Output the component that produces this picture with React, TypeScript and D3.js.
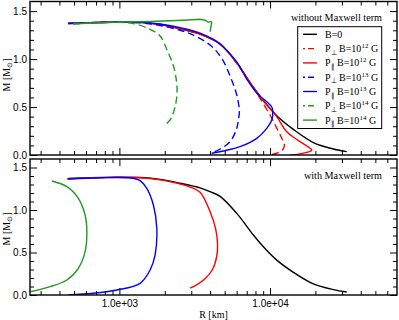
import React, { useRef, useEffect } from 'react';
import * as d3 from 'd3';

// radius [km], mass [M_sun]

// B = 0 (same curve in both panels)
const bZero = [[457, 1.37], [639, 1.38], [1011, 1.387], [1372, 1.382], [1863, 1.36], [2528, 1.315], [3431, 1.26], [3999, 1.215], [4658, 1.16], [6012, 0.96], [7748, 0.706], [9027, 0.568], [11080, 0.41], [14280, 0.267], [19380, 0.13], [26300, 0.063], [32280, 0.035]];

// without Maxwell term
const perp12 = [[457, 1.37], [639, 1.38], [1011, 1.387], [1372, 1.382], [1863, 1.36], [2528, 1.315], [3431, 1.26], [4658, 1.16], [6012, 0.955], [7748, 0.7], [8584, 0.59], [10000, 0.417], [11080, 0.28], [11960, 0.175], [12450, 0.11], [12200, 0.06], [11080, 0.018], [9743, 0.0]];
const par12 = [[457, 1.37], [639, 1.38], [1011, 1.387], [1372, 1.382], [1863, 1.36], [2528, 1.315], [3431, 1.26], [4658, 1.16], [6012, 0.958], [7748, 0.703], [9027, 0.565], [11080, 0.4], [12905, 0.243], [15810, 0.139], [18910, 0.05], [15810, 0.012], [13570, 0.0]];
const perp13 = [[457, 1.372], [639, 1.378], [1011, 1.384], [1372, 1.378], [1863, 1.35], [2528, 1.3], [3097, 1.25], [3999, 1.146], [4780, 1.007], [5500, 0.8], [6012, 0.625], [6256, 0.45], [6150, 0.36], [6012, 0.278], [5428, 0.139], [4539, 0.052], [3999, 0.015]];
const par13 = [[457, 1.372], [639, 1.38], [1011, 1.388], [1372, 1.385], [1863, 1.365], [2659, 1.32], [3431, 1.27], [4430, 1.18], [6012, 0.97], [7006, 0.79], [8325, 0.63], [9509, 0.555], [10263, 0.5], [10420, 0.46], [10263, 0.365], [9509, 0.278], [8161, 0.174], [6323, 0.087], [4899, 0.042], [4104, 0.018]];
const perp14 = [[493, 1.365], [639, 1.375], [1011, 1.383], [1238, 1.37], [1599, 1.31], [1863, 1.24], [2063, 1.1], [2282, 0.93], [2378, 0.8], [2415, 0.68], [2342, 0.5], [2170, 0.365], [2063, 0.33]];
const par14 = [[493, 1.365], [639, 1.376], [1011, 1.386], [1599, 1.392], [2659, 1.405], [3431, 1.415], [3705, 1.405], [3896, 1.383], [4059, 1.392], [4100, 1.384], [3999, 1.285]];

// with Maxwell term
const maxB12 = [[448, 1.365], [639, 1.378], [1011, 1.385], [1372, 1.38], [1863, 1.355], [2342, 1.32], [2945, 1.27], [3431, 1.21], [3999, 0.98], [4350, 0.78], [4484, 0.6], [4420, 0.45], [4150, 0.3], [3700, 0.19], [3300, 0.125], [2945, 0.08]];
const maxB13 = [[457, 1.365], [745, 1.38], [1238, 1.373], [1372, 1.345], [1520, 1.255], [1681, 1.059], [1771, 0.785], [1725, 0.47], [1599, 0.294], [1372, 0.137], [961, 0.059], [672, 0.02], [457, 0.0]];
const maxB14 = [[356, 1.341], [448, 1.274], [534, 1.137], [592, 0.941], [608, 0.745], [592, 0.51], [534, 0.314], [448, 0.176], [347, 0.098], [255, 0.039], [240, 0.035]];

const xMajor = [1000, 10000];
const xLabels = ['1.0e+03', '1.0e+04'];
const yMajor = [0, 0.5, 1.0, 1.5];

const legendRows = [
  { p: '', sub: '', text: 'B=0', exp: '' },
  { p: 'P', sub: '\u22A5', text: ' B=10', exp: '12' },
  { p: 'P', sub: '\u2225', text: ' B=10', exp: '12' },
  { p: 'P', sub: '\u22A5', text: ' B=10', exp: '13' },
  { p: 'P', sub: '\u2225', text: ' B=10', exp: '13' },
  { p: 'P', sub: '\u22A5', text: ' B=10', exp: '14' },
  { p: 'P', sub: '\u2225', text: ' B=10', exp: '14' },
];

const GREEN = '#1f9a1f';
const FONT = "'Liberation Serif', 'Times New Roman', serif";

const App = () => {
  const svgRef = useRef(null);

  useEffect(() => {
    const svg = d3.select(svgRef.current);
    svg.selectAll('*').remove();

    const left = 30, right = 397;
    const x = d3.scaleLog().domain([255, 69600]).range([left, right]);
    const xMinor = x.ticks().filter(t => xMajor.indexOf(t) < 0);
    const yMinor = d3.range(0, 16).map(i => i / 10).filter(v => yMajor.indexOf(v) < 0);

    const topSeries = [
      { data: bZero, color: '#000', dash: null },
      { data: perp12, color: '#ff0000', dash: '7,4' },
      { data: par12, color: '#ff0000', dash: null },
      { data: perp13, color: '#0000ff', dash: '7,4' },
      { data: par13, color: '#0000ff', dash: null },
      { data: perp14, color: GREEN, dash: '7,4' },
      { data: par14, color: GREEN, dash: null, linear: true },
    ];
    const bottomSeries = [
      { data: bZero, color: '#000', dash: null },
      { data: maxB12, color: '#ff0000', dash: null },
      { data: maxB13, color: '#0000ff', dash: null },
      { data: maxB14, color: GREEN, dash: null },
    ];

    const panels = [
      { top: 1.5, bottom: 155, title: 'without Maxwell term', titleY: 20.5, series: topSeries, labels: false, labelY: 75 },
      { top: 159, bottom: 295, title: 'with Maxwell term', titleY: 178.5, series: bottomSeries, labels: true, labelY: 229 },
    ];

    panels.forEach((p, pi) => {
      const y = d3.scaleLinear().domain([0, 1.6]).range([p.bottom, p.top]);
      const g = svg.append('g');

      const clipId = 'clip' + pi;
      g.append('clipPath').attr('id', clipId)
        .append('rect')
        .attr('x', left).attr('y', p.top)
        .attr('width', right - left).attr('height', p.bottom - p.top);

      const curves = g.append('g').attr('clip-path', `url(#${clipId})`);
      p.series.forEach(s => {
        const line = d3.line()
          .x(d => x(d[0]))
          .y(d => y(d[1]))
          .curve(s.linear ? d3.curveLinear : d3.curveCatmullRom.alpha(0.5));
        curves.append('path')
          .attr('d', line(s.data))
          .attr('fill', 'none')
          .attr('stroke', s.color)
          .attr('stroke-width', 1.4)
          .attr('stroke-dasharray', s.dash);
      });

      // axes with inward ticks on all four sides
      const axes = g.append('g').attr('font-family', FONT);
      axes.append('g').attr('transform', `translate(0,${p.bottom})`)
        .call(d3.axisBottom(x).tickValues(xMajor).tickSize(-7).tickPadding(5)
          .tickFormat((d, i) => (p.labels ? xLabels[i] : '')));
      axes.append('g').attr('transform', `translate(0,${p.bottom})`)
        .call(d3.axisBottom(x).tickValues(xMinor).tickSize(-4).tickFormat(() => ''));
      axes.append('g').attr('transform', `translate(0,${p.top})`)
        .call(d3.axisTop(x).tickValues(xMajor).tickSize(-7).tickFormat(() => ''));
      axes.append('g').attr('transform', `translate(0,${p.top})`)
        .call(d3.axisTop(x).tickValues(xMinor).tickSize(-4).tickFormat(() => ''));
      axes.append('g').attr('transform', `translate(${left},0)`)
        .call(d3.axisLeft(y).tickValues(yMajor).tickSize(-7).tickPadding(3).tickFormat(d3.format('.1f')));
      axes.append('g').attr('transform', `translate(${left},0)`)
        .call(d3.axisLeft(y).tickValues(yMinor).tickSize(-4).tickFormat(() => ''));
      axes.append('g').attr('transform', `translate(${right},0)`)
        .call(d3.axisRight(y).tickValues(yMajor).tickSize(-7).tickFormat(() => ''));
      axes.append('g').attr('transform', `translate(${right},0)`)
        .call(d3.axisRight(y).tickValues(yMinor).tickSize(-4).tickFormat(() => ''));

      axes.selectAll('.domain').remove();
      axes.selectAll('.tick line').attr('stroke', '#000');
      axes.selectAll('.tick text').attr('font-size', 10).attr('fill', '#000');

      g.append('rect')
        .attr('x', left).attr('y', p.top)
        .attr('width', right - left).attr('height', p.bottom - p.top)
        .attr('fill', 'none').attr('stroke', '#000').attr('stroke-width', 1.4);

      g.append('text')
        .attr('x', 382).attr('y', p.titleY)
        .attr('text-anchor', 'end')
        .attr('font-family', FONT).attr('font-size', 10.2)
        .text(p.title);

      const yl = g.append('text')
        .attr('transform', `translate(9.5,${p.labelY}) rotate(-90)`)
        .attr('text-anchor', 'middle')
        .attr('font-family', FONT).attr('font-size', 10);
      yl.append('tspan').text('M [M');
      yl.append('tspan').attr('font-size', 7).attr('dy', 2).text('\u2299');
      yl.append('tspan').attr('dy', -2).text(']');
    });

    // x axis title
    svg.append('text')
      .attr('x', (left + right) / 2).attr('y', 318)
      .attr('text-anchor', 'middle')
      .attr('font-family', FONT).attr('font-size', 10)
      .text('R [km]');

    // legend
    const lg = svg.append('g').attr('font-family', FONT).attr('font-size', 10);
    lg.append('rect')
      .attr('x', 297.7).attr('y', 26.7).attr('width', 84).attr('height', 101.8)
      .attr('fill', '#fff').attr('stroke', '#000').attr('stroke-width', 1);

    legendRows.forEach((r, i) => {
      const s = topSeries[i];
      const cy = 34.3 + 14.3 * i;
      lg.append('line')
        .attr('x1', 303).attr('x2', 317).attr('y1', cy).attr('y2', cy)
        .attr('stroke', s.color).attr('stroke-width', 1.4)
        .attr('stroke-dasharray', s.dash ? '2,3,6,3' : null);
      const t = lg.append('text').attr('x', 325).attr('y', cy + 3.5);
      if (r.p) {
        t.append('tspan').text(r.p);
        t.append('tspan').attr('font-size', 7).attr('dy', 2.5).text(r.sub);
        t.append('tspan').attr('dy', -2.5).text(r.text);
        t.append('tspan').attr('font-size', 7).attr('dy', -4).text(r.exp);
        t.append('tspan').attr('dy', 4).text(' G');
      } else {
        t.text(r.text);
      }
    });
  }, []);

  return <svg ref={svgRef} width={399} height={320} style={{ position: 'absolute', left: 0, top: 0, background: '#fff' }} />;
};

export default App;
